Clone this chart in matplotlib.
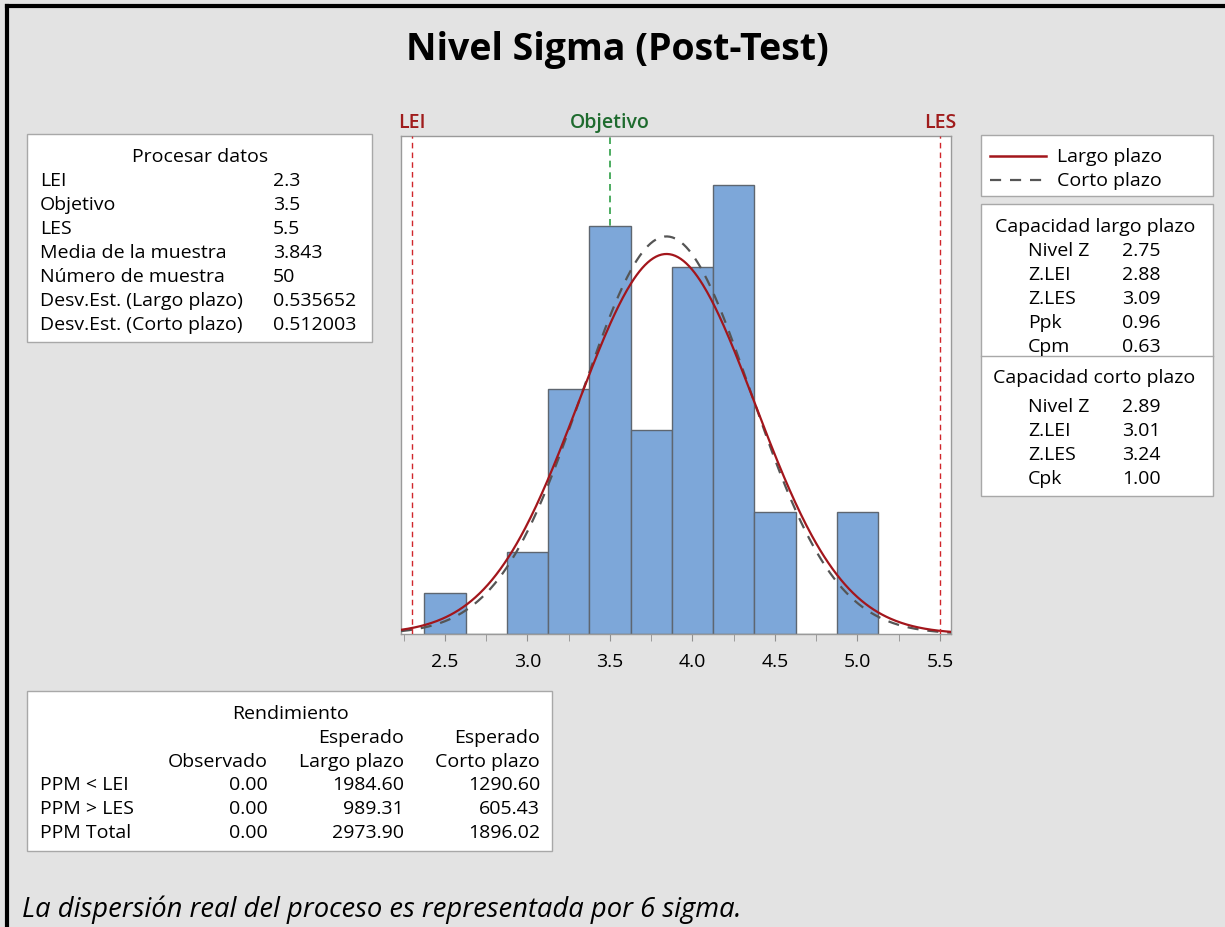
import numpy as np
import matplotlib
matplotlib.use("Agg")
import matplotlib.pyplot as plt
from matplotlib.patches import Rectangle
from matplotlib.lines import Line2D

plt.rcParams['font.family'] = ['Open Sans', 'DejaVu Sans']

# ---------------- data ----------------
bin_centers = [2.5, 2.75, 3.0, 3.25, 3.5, 3.75, 4.0, 4.25, 4.5, 4.75, 5.0]
counts = [1, 0, 2, 6, 10, 5, 9, 11, 3, 0, 3]
bin_width = 0.25
LEI = 2.3
objetivo = 3.5
LES = 5.5
media = 3.843
n = 50
sd_largo = 0.535652
sd_corto = 0.512003
x_ticks = [2.5, 3.0, 3.5, 4.0, 4.5, 5.0, 5.5]
x_tick_labels = ["2.5", "3.0", "3.5", "4.0", "4.5", "5.0", "5.5"]

proc_labels = ["LEI", "Objetivo", "LES", "Media de la muestra", "Número de muestra",
               "Desv.Est. (Largo plazo)", "Desv.Est. (Corto plazo)"]
proc_values = ["2.3", "3.5", "5.5", "3.843", "50", "0.535652", "0.512003"]

cap_largo_labels = ["Nivel Z", "Z.LEI", "Z.LES", "Ppk", "Cpm"]
cap_largo_values = ["2.75", "2.88", "3.09", "0.96", "0.63"]
cap_corto_labels = ["Nivel Z", "Z.LEI", "Z.LES", "Cpk"]
cap_corto_values = ["2.89", "3.01", "3.24", "1.00"]

rend_rows = ["PPM < LEI", "PPM > LES", "PPM Total"]
rend_obs = ["0.00", "0.00", "0.00"]
rend_largo = ["1984.60", "989.31", "2973.90"]
rend_corto = ["1290.60", "605.43", "1896.02"]

# ---------------- figure ----------------
W, H = 1225, 928
BG = "#E3E3E3"
FS = 14
fig = plt.figure(figsize=(W / 100, H / 100), dpi=100, facecolor=BG)

def P(x, y):
    return (x / W, 1 - y / H)

def T(x, y, s, **kw):
    kw.setdefault('va', 'center')
    kw.setdefault('fontsize', FS)
    kw.setdefault('color', '#000000')
    fig.text(x / W, 1 - y / H, s, **kw)

def box(x0, y0, x1, y1):
    fig.patches.append(Rectangle(P(x0, y1), (x1 - x0) / W, (y1 - y0) / H,
                                 transform=fig.transFigure, facecolor='white',
                                 edgecolor='#A8A8A8', linewidth=1.0, zorder=0))

# outer frame (top and left)
fig.add_artist(Line2D([7 / W, 1], [1 - 7 / H, 1 - 7 / H], transform=fig.transFigure,
                      color='black', linewidth=3))
fig.add_artist(Line2D([7 / W, 7 / W], [0, 1 - 7 / H], transform=fig.transFigure,
                      color='black', linewidth=3))

# title
T(617, 50, "Nivel Sigma (Post-Test)", ha='center', fontsize=27, fontweight='bold')

# ---------------- histogram axes ----------------
ax_l, ax_r, ax_t, ax_b = 401, 951, 137, 635
ax = fig.add_axes([ax_l / W, 1 - ax_b / H, (ax_r - ax_l) / W, (ax_b - ax_t) / H])
ax.set_facecolor('white')
ax.bar(bin_centers, counts, width=bin_width, color='#7DA7D9', edgecolor='#5E6670',
       linewidth=1.0, zorder=2)

xs = np.linspace(2.234, 5.567, 400)
scale = n * bin_width
y_largo = scale / (sd_largo * np.sqrt(2 * np.pi)) * np.exp(-0.5 * ((xs - media) / sd_largo) ** 2)
y_corto = scale / (sd_corto * np.sqrt(2 * np.pi)) * np.exp(-0.5 * ((xs - media) / sd_corto) ** 2)
ax.plot(xs, y_corto, color='#555555', linestyle=(0, (5, 4)), linewidth=1.6, zorder=3)
ax.plot(xs, y_largo, color='#A3161C', linewidth=1.6, zorder=4)

ax.axvline(LEI, color='#D0262B', linestyle=(0, (4, 3)), linewidth=1.0, zorder=5)
ax.axvline(LES, color='#D0262B', linestyle=(0, (4, 3)), linewidth=1.0, zorder=5)
ax.axvline(objetivo, color='#2E9E45', linestyle=(0, (4, 3)), linewidth=1.2, zorder=1)

ax.set_xlim(2.234, 5.567)
ax.set_ylim(0, 12.2)
ax.set_yticks([])
ax.set_xticks(np.arange(2.25, 5.51, 0.25), minor=True)
ax.set_xticks(x_ticks)
ax.set_xticklabels(x_tick_labels, fontsize=14, color='#000000')
ax.tick_params(axis='x', which='both', length=5, color='#909090', pad=8)
for s in ax.spines.values():
    s.set_color('#9A9A9A')
    s.set_linewidth(1.0)

ax.text(LEI, 1.008, "LEI", transform=ax.get_xaxis_transform(), ha='center', va='bottom',
        color='#A01C1C', fontsize=14, fontweight='semibold')
ax.text(objetivo, 1.008, "Objetivo", transform=ax.get_xaxis_transform(), ha='center', va='bottom',
        color='#1E6B2E', fontsize=14, fontweight='semibold')
ax.text(LES, 1.008, "LES", transform=ax.get_xaxis_transform(), ha='center', va='bottom',
        color='#A01C1C', fontsize=14, fontweight='semibold')

# ---------------- Procesar datos box ----------------
box(27, 135, 372, 343)
T(200, 157, "Procesar datos", ha='center')
for i, (lab, val) in enumerate(zip(proc_labels, proc_values)):
    y = 181 + 24 * i
    T(40, y, lab)
    T(273, y, val)

# ---------------- legend box ----------------
box(981, 136, 1213, 197)
fig.add_artist(Line2D([990 / W, 1046 / W], [1 - 157 / H] * 2, transform=fig.transFigure,
                      color='#A3161C', linewidth=1.8))
fig.add_artist(Line2D([990 / W, 1046 / W], [1 - 181 / H] * 2, transform=fig.transFigure,
                      color='#555555', linewidth=1.6, linestyle=(0, (5, 4))))
T(1057, 157, "Largo plazo")
T(1057, 181, "Corto plazo")

# ---------------- capacidad box ----------------
box(981, 205, 1213, 497)
fig.add_artist(Line2D([981 / W, 1213 / W], [1 - 357 / H] * 2, transform=fig.transFigure,
                      color='#A8A8A8', linewidth=1.0))
T(1095, 227, "Capacidad largo plazo", ha='center')
for i, (lab, val) in enumerate(zip(cap_largo_labels, cap_largo_values)):
    y = 251 + 24 * i
    T(1028, y, lab)
    T(1141, y, val, ha='center')
T(1094, 378, "Capacidad corto plazo", ha='center')
for i, (lab, val) in enumerate(zip(cap_corto_labels, cap_corto_values)):
    y = 407 + 24 * i
    T(1028, y, lab)
    T(1141, y, val, ha='center')

# ---------------- Rendimiento box ----------------
box(27, 692, 552, 852)
T(290, 714, "Rendimiento", ha='center')
T(404, 738, "Esperado", ha='right')
T(540, 738, "Esperado", ha='right')
T(268, 762, "Observado", ha='right')
T(404, 762, "Largo plazo", ha='right')
T(540, 762, "Corto plazo", ha='right')
for i in range(len(rend_rows)):
    y = 785 + 24 * i
    T(40, y, rend_rows[i])
    T(268, y, rend_obs[i], ha='right')
    T(404, y, rend_largo[i], ha='right')
    T(540, y, rend_corto[i], ha='right')

# footer
T(22, 910, "La dispersión real del proceso es representada por 6 sigma.",
  fontsize=19.7, style='italic')

fig.savefig("out.png", dpi=100, facecolor=BG)
